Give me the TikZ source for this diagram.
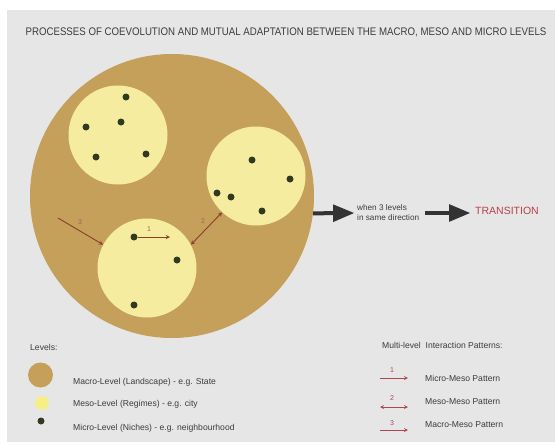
\documentclass[tikz,border=0pt]{standalone}
\usepackage{fontspec}
\setmainfont{Liberation Sans}
\newfontfamily\titlefont[FakeStretch=0.88]{Liberation Sans}
\usepackage{tikz}
\usetikzlibrary{arrows}
\usetikzlibrary{positioning}
\definecolor{panelGrey}{HTML}{E6E6E6}
\definecolor{macroTan}{HTML}{C4A05A}
\definecolor{mesoYellow}{HTML}{F5ECA0}
\definecolor{microDark}{HTML}{2F3A1E}
\definecolor{linkBrown}{HTML}{8C3C2D}
\definecolor{legendRed}{HTML}{B0454F}
\definecolor{transRed}{HTML}{B5404A}
\definecolor{textGrey}{HTML}{3C3C3C}
\tikzstyle{macroNode} = [circle, minimum size=284pt, inner sep=0pt, fill=macroTan]
\tikzstyle{mesoNode} = [circle, minimum size=99pt, inner sep=0pt, fill=mesoYellow]
\tikzstyle{microNode} = [circle, minimum size=7pt, inner sep=0pt, fill=microDark]
\tikzstyle{link} = [line width=0.9pt, ->, >=stealth, draw=linkBrown]
\tikzstyle{twoWayLink} = [line width=0.9pt, <->, >=stealth, draw=linkBrown]
\tikzstyle{bigArrow} = [line width=4pt, -triangle 45, draw=black!80]
\tikzstyle{numLabel} = [inner sep=0pt, font=\fontsize{7}{7}\selectfont, text=linkBrown!80]
\tikzstyle{legendLink} = [line width=0.8pt, ->, >=stealth, draw=legendRed]
\tikzstyle{legendTwoWay} = [line width=0.8pt, <->, >=stealth, draw=legendRed]
\tikzstyle{legendNum} = [inner sep=0pt, font=\fontsize{7}{7}\selectfont, text=legendRed]
\tikzstyle{legendText} = [anchor=west, inner sep=0pt, font=\fontsize{8.6}{9}\selectfont, text=textGrey]

\begin{document}
\begin{tikzpicture}[x=1pt, y=-1pt]
                        \useasboundingbox (0,0) rectangle (555,445);
                        \fill[panelGrey] (7,10) rectangle (555,442);
                        \node (title) [inner sep=0pt, text=textGrey, font=\titlefont\fontsize{11}{12}\selectfont] at (286,32) {PROCESSES OF COEVOLUTION AND MUTUAL ADAPTATION BETWEEN THE MACRO, MESO AND MICRO LEVELS};
                        \node (macro) [macroNode] at (172,196) {};
                        \node (mesoA) [mesoNode] at (118,135) {};
                        \node (mesoB) [mesoNode] at (256,176) {};
                        \node (mesoC) [mesoNode] at (147,268) {};
                        \node (a1) [microNode] at (126,97) {};
                        \node (a2) [microNode] at (86,127) {};
                        \node (a3) [microNode] at (121,122) {};
                        \node (a4) [microNode] at (96,157) {};
                        \node (a5) [microNode] at (146,154) {};
                        \node (b1) [microNode] at (252,160) {};
                        \node (b2) [microNode] at (290,179) {};
                        \node (b3) [microNode] at (217,193) {};
                        \node (b4) [microNode] at (231,197) {};
                        \node (b5) [microNode] at (262,211) {};
                        \node (c1) [microNode] at (134,237) {};
                        \node (c2) [microNode] at (177,260) {};
                        \node (c3) [microNode] at (134,305) {};
                        \coordinate (c1to) at (170,237);
                        \coordinate (landscape) at (58,218);
                        \draw (c1) [link] -- (c1to);
                        \draw (mesoC.28) [twoWayLink] -- (mesoB.227);
                        \draw (landscape) [link] -- (mesoC.152);
                        \node (n1) [numLabel] at (149,229) {1};
                        \node (n2) [numLabel] at (203,221) {2};
                        \node (n3) [numLabel] at (80,222) {3};
                        \node (cond) [anchor=west, inner sep=0pt, align=left, text=textGrey, font=\fontsize{8.2}{10}\selectfont] at (357,213) {when 3 levels\\in same direction};
                        \node (trans) [anchor=west, inner sep=0pt, text=transRed, font=\fontsize{10.5}{11}\selectfont] at (475,211) {TRANSITION};
                        \draw (macro.-7) [bigArrow, shorten >=3pt] -- (cond.west);
                        \draw (cond.east) [bigArrow, shorten <=6pt, shorten >=5pt] -- (trans.west |- cond.east);
                        % levels legend
                        \node (levels) [legendText] at (30,347) {Levels:};
                        \node (keyMacro) [circle, minimum size=25pt, inner sep=0pt, fill=macroTan] at (40.5,375) {};
                        \node (keyMeso) [circle, minimum size=14pt, inner sep=0pt, fill=mesoYellow!85!yellow] at (42,403) {};
                        \node (keyMicro) [microNode] at (41,421) {};
                        \node (txtMacro) [legendText] at (73,382) {Macro-Level (Landscape) - e.g. State};
                        \node (txtMeso) [legendText] at (73,404) {Meso-Level (Regimes) - e.g. city};
                        \node (txtMicro) [legendText] at (73,428) {Micro-Level (Niches) - e.g. neighbourhood};
                        % interaction legend
                        \node (patterns) [legendText] at (382,345) {Multi-level\ \ Interaction Patterns:};
                        \coordinate (k1a) at (380,378);
                        \coordinate (k1b) at (408,378);
                        \coordinate (k2a) at (380,407);
                        \coordinate (k2b) at (408,407);
                        \coordinate (k3a) at (380,430);
                        \coordinate (k3b) at (408,430);
                        \draw (k1a) [legendLink] -- (k1b);
                        \draw (k2a) [legendTwoWay] -- (k2b);
                        \draw (k3a) [legendLink] -- (k3b);
                        \node (k1n) [legendNum] at (392,370) {1};
                        \node (k2n) [legendNum] at (392,398) {2};
                        \node (k3n) [legendNum] at (392,423) {3};
                        \node (k1t) [legendText] at (425,378) {Micro-Meso Pattern};
                        \node (k2t) [legendText] at (425,402) {Meso-Meso Pattern};
                        \node (k3t) [legendText] at (425,425) {Macro-Meso Pattern};
                    \end{tikzpicture}
\end{document}
